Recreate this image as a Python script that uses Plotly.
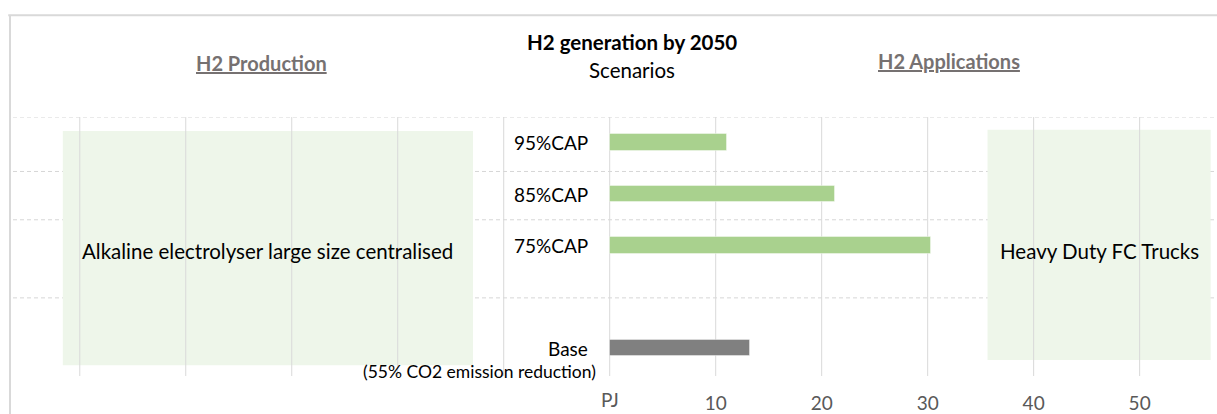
import plotly.graph_objects as go

# Scenario results (PJ of H2 generated by 2050)
scenarios = ["95%CAP", "85%CAP", "75%CAP", "Base"]
scenario_pos = [4, 3, 2, 0]
h2_pj = [11.1, 21.3, 30.3, 13.2]
bar_colors = ["#A9D18E", "#A9D18E", "#A9D18E", "#808080"]

x_ticks = [10, 20, 30, 40, 50]
x_gridlines = [-50, -40, -30, -20, -10, 0, 10, 20, 30, 40, 50]
row_separators = [4.5, 3.44, 2.5, 0.98]

production_tech = "Alkaline electrolyser large size centralised"
application = "Heavy Duty FC Trucks"

FONT = "Lato"
GRID = "#D9D9D9"
BOX = "#EEF6EA"

fig = go.Figure()
fig.add_trace(go.Bar(
    x=h2_pj, y=scenario_pos, orientation="h",
    width=0.32,
    marker=dict(color=bar_colors, line=dict(color="rgba(255,255,255,0.4)", width=1)),
    hoverinfo="x+text", hovertext=scenarios, showlegend=False,
))

shapes = []
# light green info panels
prod_box = (-51.6, -12.9, -0.33, 4.23)
app_box = (35.65, 56.7, -0.23, 4.25)
for bx0, bx1, by0, by1 in (prod_box, app_box):
    shapes.append(dict(type="rect", xref="x", yref="y", x0=bx0, x1=bx1, y0=by0, y1=by1,
                       fillcolor=BOX, line=dict(width=0), layer="below"))
# vertical gridlines
for gx in x_gridlines:
    shapes.append(dict(type="line", xref="x", yref="y", x0=gx, x1=gx, y0=-0.54, y1=4.5,
                       line=dict(color=GRID, width=1), layer="below"))
# dashed row separators
for ry in row_separators:
    shapes.append(dict(type="line", xref="paper", yref="y", x0=0, x1=1, y0=ry, y1=ry,
                       line=dict(color="#D6D6D6", width=1, dash="4px,3px"), layer="below"))
# chart frame (top and left edges)
shapes.append(dict(type="line", xref="paper", yref="paper", x0=-0.004, x1=1.01, y0=1.393, y1=1.393,
                   line=dict(color="#D9D9D9", width=2)))
shapes.append(dict(type="line", xref="paper", yref="paper", x0=-0.0025, x1=-0.0025, y0=1.393, y1=-0.2,
                   line=dict(color="#D9D9D9", width=2)))

annotations = []
for name, pos in zip(scenarios, scenario_pos):
    annotations.append(dict(x=0, y=pos, xref="x", yref="y", text=name, showarrow=False,
                            xanchor="right", xshift=-20, font=dict(family=FONT, size=19, color="#000000")))
annotations.append(dict(x=0, y=0, xref="x", yref="y", text="(55% CO2 emission reduction)", showarrow=False,
                        xanchor="right", xshift=-12, yshift=-23,
                        font=dict(family=FONT, size=17.5, color="#000000")))
annotations.append(dict(x=0, y=0, xref="x", yref="paper", text="PJ", showarrow=False,
                        yanchor="middle", yshift=-23, font=dict(family=FONT, size=19, color="#595959")))
annotations.append(dict(x=(prod_box[0] + prod_box[1]) / 2, y=1.9, xref="x", yref="y", text=production_tech,
                        showarrow=False, font=dict(family=FONT, size=20.5, color="#000000")))
annotations.append(dict(x=(app_box[0] + app_box[1]) / 2, y=1.9, xref="x", yref="y", text=application,
                        showarrow=False, font=dict(family=FONT, size=20.5, color="#000000")))
annotations.append(dict(x=2.1, y=4.5, xref="x", yref="y", yshift=75, text="<b>H2 generation by 2050</b>",
                        showarrow=False, font=dict(family=FONT, size=20.5, color="#000000")))
annotations.append(dict(x=2.1, y=4.5, xref="x", yref="y", yshift=47, text="Scenarios",
                        showarrow=False, font=dict(family=FONT, size=20.5, color="#000000")))
annotations.append(dict(x=-32.9, y=4.5, xref="x", yref="y", yshift=54, text="<b><u>H2 Production</u></b>",
                        showarrow=False, font=dict(family=FONT, size=20, color="#767171")))
annotations.append(dict(x=32.0, y=4.5, xref="x", yref="y", yshift=56, text="<b><u>H2 Applications</u></b>",
                        showarrow=False, font=dict(family=FONT, size=20, color="#767171")))

fig.update_layout(
    width=1217, height=414,
    margin=dict(l=13, r=0, t=117, b=35),
    paper_bgcolor="#FFFFFF", plot_bgcolor="rgba(0,0,0,0)",
    xaxis=dict(range=[-56.3, 57.3], tickvals=x_ticks, ticktext=[str(v) for v in x_ticks],
               showgrid=False, zeroline=False, showline=False, ticks="",
               ticklabelstandoff=14,
               tickfont=dict(family=FONT, size=19, color="#595959")),
    yaxis=dict(range=[-0.54, 4.5], showgrid=False, zeroline=False, showticklabels=False,
               showline=False, ticks=""),
    shapes=shapes, annotations=annotations,
    bargap=0,
)

fig.write_html("out.html")
